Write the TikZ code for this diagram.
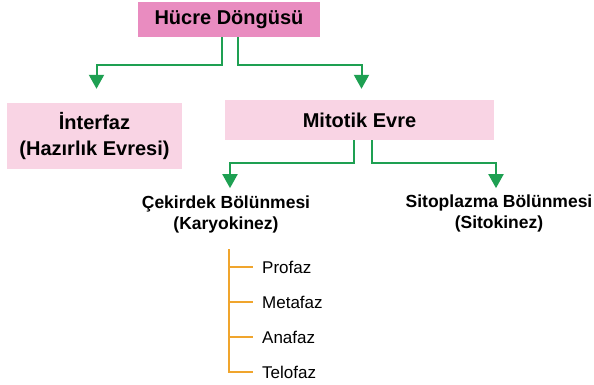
\documentclass[tikz,border=0pt]{standalone}
\usepackage{fontspec}
\setmainfont{Liberation Sans}
\usetikzlibrary{
		calc,
		positioning,
		arrows.meta
	}
\definecolor{pinkdark}{RGB}{233,140,192}
\definecolor{pinklight}{RGB}{249,212,228}
\definecolor{arrowgreen}{RGB}{30,160,82}
\definecolor{treeorange}{RGB}{240,165,45}
\tikzset{
		>={Triangle[width=15pt,length=14pt]},
		greenarrow/.style={draw=arrowgreen, line width=2pt, ->},
		orangeline/.style={draw=treeorange, line width=2pt},
		bigbox/.style={inner sep=0pt, align=center, font=\bfseries\fontsize{20}{26}\selectfont},
		subtext/.style={inner sep=0pt, align=center, font=\bfseries\fontsize{17.5}{21}\selectfont},
		phase/.style={inner sep=0pt, anchor=west, text height=12.2pt, text depth=0pt, font=\fontsize{17}{20}\selectfont}
	}
\begin{document}
\begin{tikzpicture}[x=1pt,y=-1pt]
              \useasboundingbox (0,0) rectangle (594,384);

              % the boxes
              \node[bigbox, fill=pinkdark, minimum width=182pt, minimum height=35pt] (hucre) at (229,19.5) {Hücre Döngüsü};
              \node[bigbox, fill=pinklight, minimum width=175pt, minimum height=66pt] (interfaz) at (94.5,136) {İnterfaz\\(Hazırlık Evresi)};
              \node[bigbox, fill=pinklight, minimum width=269pt, minimum height=40pt] (mitotik) at (359.5,120) {Mitotik Evre};

              % the texts under the boxes
              \node[subtext] (cekirdek) at (226,214) {Çekirdek Bölünmesi\\(Karyokinez)};
              \node[subtext] (sitoplazma) at (499,213) {Sitoplazma Bölünmesi\\(Sitokinez)};

              % the phases
              \coordinate (spine) at (229,249);
              \node[phase] (profaz) at (262,267) {Profaz};
              \node[phase] (metafaz) at (262,302) {Metafaz};
              \node[phase] (anafaz) at (262,337) {Anafaz};
              \node[phase] (telofaz) at (262,372) {Telofaz};

              % draw the arrows
              \draw[greenarrow, shorten >=14pt] ([xshift=-7pt]hucre.south) -- ++(0,28) -| ([xshift=2pt]interfaz.north);
              \draw[greenarrow, shorten >=11pt] ([xshift=9pt]hucre.south) -- ++(0,28) -| ([xshift=2pt]mitotik.north);
              \draw[greenarrow, shorten >=7pt] ([xshift=-6pt]mitotik.south) -- ++(0,23) -| ([xshift=4pt]cekirdek.north);
              \draw[greenarrow, shorten >=6pt] ([xshift=12pt]mitotik.south) -- ++(0,23) -| ([xshift=-3pt]sitoplazma.north);

              % draw the tree
              \draw[orangeline, shorten >=9pt] (spine) |- (telofaz.west);
              \foreach \n in {profaz,metafaz,anafaz}
                \draw[orangeline, shorten >=9pt] (spine |- \n.west) -- (\n.west);

          \end{tikzpicture}
\end{document}
